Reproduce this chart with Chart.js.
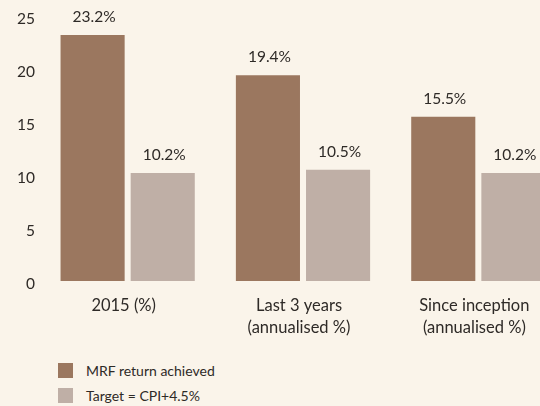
<!DOCTYPE html>
<html>
<head>
<meta charset="utf-8">
<script src="https://cdn.jsdelivr.net/npm/chart.js@4.4.1/dist/chart.umd.min.js"></script>
<style>
    html, body {
        margin: 0;
        padding: 0;
        background: #faf4ea;
        overflow: hidden;
        width: 540px;
        height: 406px;
    }
    #wrap {
        position: absolute;
        left: 0;
        top: 0;
        width: 566px;
        height: 341px;
    }
    #legend {
        position: absolute;
        left: 58px;
        top: 363px;
        font-family: Lato, sans-serif;
        font-size: 14px;
        color: #2e2a27;
    }
    .item {
        display: flex;
        align-items: center;
        height: 15px;
        margin-bottom: 10px;
    }
    .box {
        width: 15px;
        height: 15px;
        margin-right: 13px;
    }
</style>
</head>
<body>
<div id="wrap"><canvas id="returnsChart"></canvas></div>
<div id="legend"></div>
<script>
const categories = [['2015 (%)'], ['Last 3 years', '(annualised %)'], ['Since inception', '(annualised %)']];
const seriesNames = ['MRF return achieved', 'Target = CPI+4.5%'];
const mrfReturn = [23.2, 19.4, 15.5];
const targetReturn = [10.2, 10.5, 10.2];
const yTicks = [0, 5, 10, 15, 20, 25];

const brown = '#9b775f';
const grey = '#bfafa6';
const textColor = '#2e2a27';

// value labels above each bar
const barLabels = {
    id: 'barLabels',
    afterDatasetsDraw(chart) {
        const ctx = chart.ctx;
        ctx.save();
        ctx.font = '15.5px Lato, sans-serif';
        ctx.fillStyle = textColor;
        ctx.textAlign = 'center';
        ctx.textBaseline = 'middle';
        chart.data.datasets.forEach((ds, i) => {
            chart.getDatasetMeta(i).data.forEach((bar, j) => {
                ctx.fillText(ds.data[j].toFixed(1) + '%', bar.x + 1.5, bar.y - 18);
            });
        });
        ctx.restore();
    }
};

const chart = new Chart(document.getElementById('returnsChart'), {
    type: 'bar',
    data: {
        labels: categories,
        datasets: [
            {
                label: seriesNames[0],
                data: mrfReturn,
                backgroundColor: brown,
                categoryPercentage: 0.8,
                barPercentage: 0.914
            },
            {
                label: seriesNames[1],
                data: targetReturn,
                backgroundColor: grey,
                categoryPercentage: 0.8,
                barPercentage: 0.914
            }
        ]
    },
    options: {
        responsive: true,
        maintainAspectRatio: false,
        animation: false,
        layout: {
            padding: { top: 16, left: 0, right: 0, bottom: 0 }
        },
        scales: {
            x: {
                grid: { display: false, drawTicks: false },
                border: { display: false },
                ticks: {
                    color: textColor,
                    padding: 14,
                    maxRotation: 0,
                    labelOffset: -4,
                    font: { family: 'Lato, sans-serif', size: 16.5, lineHeight: 1.33 }
                },
                afterFit(axis) { axis.height = 60; }
            },
            y: {
                min: 0,
                max: 25,
                grid: { display: false, drawTicks: false },
                border: { display: false },
                afterBuildTicks(axis) {
                    axis.ticks = yTicks.map(v => ({ value: v }));
                },
                ticks: {
                    color: textColor,
                    padding: 5,
                    labelOffset: 3,
                    font: { family: 'Lato, sans-serif', size: 15.5 }
                },
                afterFit(axis) { axis.width = 40; }
            }
        },
        plugins: {
            legend: { display: false },
            tooltip: { enabled: false }
        }
    },
    plugins: [barLabels]
});

// legend stacked under the chart
const legendEl = document.getElementById('legend');
chart.data.datasets.forEach(ds => {
    const item = document.createElement('div');
    item.className = 'item';
    const box = document.createElement('span');
    box.className = 'box';
    box.style.background = ds.backgroundColor;
    const txt = document.createElement('span');
    txt.textContent = ds.label;
    item.appendChild(box);
    item.appendChild(txt);
    legendEl.appendChild(item);
});
</script>
</body>
</html>
